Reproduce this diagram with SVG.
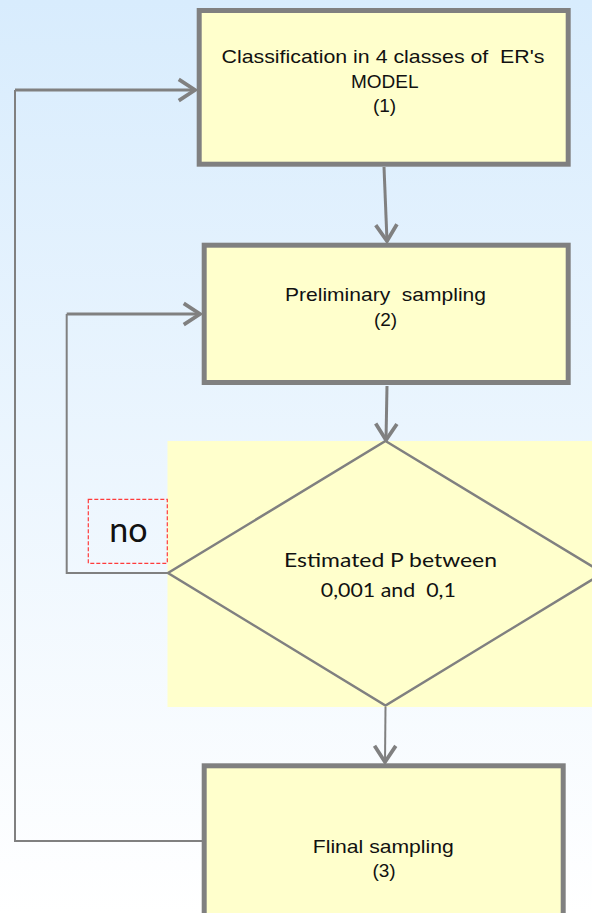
<svg xmlns="http://www.w3.org/2000/svg" width="592" height="913" viewBox="0 0 592 913">
<defs>
<linearGradient id="bg" x1="0" y1="0" x2="0" y2="1">
<stop offset="0" stop-color="#d8ecfd"/>
<stop offset="1" stop-color="#ffffff"/>
</linearGradient>
<marker id="arr" markerUnits="userSpaceOnUse" markerWidth="30" markerHeight="30" refX="0" refY="0" viewBox="-16 -12 20 24" orient="auto" overflow="visible">
<path d="M-13,-8.5 L0,0 L-13,8.5" fill="none" stroke="#808080" stroke-width="3"/>
</marker>
<style>
.box{fill:#ffffcc;stroke:#808080;stroke-width:5}
.dia{fill:#ffffcc;stroke:#808080;stroke-width:2.5}
.t{font-family:"Liberation Sans",Arial,sans-serif;font-size:19px;fill:#111;text-anchor:middle;white-space:pre}
.c{font-family:Lato,"Liberation Sans",sans-serif;font-size:20px;fill:#111;text-anchor:middle;white-space:pre}
.ln{fill:none;stroke:#808080;stroke-width:2}
.lt{fill:none;stroke:#808080;stroke-width:3}
</style>
</defs>
<rect width="592" height="913" fill="url(#bg)"/>
<g id="connectors">
<path class="ln" d="M202,841 L15,841 L15,90"/>
<path class="lt" d="M15,90 L195,90" marker-end="url(#arr)"/>
<path class="ln" d="M168,573 L66.7,573 L66.7,314"/>
<path class="lt" d="M66.7,314 L200,314" marker-end="url(#arr)"/>
<path class="lt" d="M384,167 L387,241" marker-end="url(#arr)"/>
<path class="lt" d="M387,386 L386,440" marker-end="url(#arr)"/>
<path class="ln" d="M385.5,707 L385,762" marker-end="url(#arr)"/>
</g>
<g id="node1">
<rect class="box" x="199.2" y="10.5" width="369" height="153.7"/>
<text class="t" x="383" y="63" textLength="323" lengthAdjust="spacingAndGlyphs">Classification in 4 classes of  ER's</text>
<text class="t" x="384.7" y="87.5">MODEL</text>
<text class="t" x="384.5" y="112">(1)</text>
</g>
<g id="node2">
<rect class="box" x="204.2" y="245.2" width="364" height="137.3"/>
<text class="t" x="385.5" y="301" textLength="201" lengthAdjust="spacingAndGlyphs">Preliminary  sampling</text>
<text class="t" x="385.5" y="325.5">(2)</text>
</g>
<g id="decision">
<rect x="167.5" y="441" width="425" height="266" fill="#ffffcc"/>
<path class="dia" d="M385.5,441 L603,573 L385.5,705.5 L168,573 Z"/>
<text class="c" x="390.5" y="567" textLength="213" lengthAdjust="spacingAndGlyphs">Estimated P between</text>
<text class="c" x="388.3" y="597" textLength="135" lengthAdjust="spacingAndGlyphs">0,001 and  0,1</text>
</g>
<g id="label-no">
<rect x="88.3" y="499.3" width="79" height="64" fill="none" stroke="#ff3b3b" stroke-width="1.2" stroke-dasharray="4,2"/>
<text class="c" x="128.3" y="541.7" style="font-size:34px">no</text>
</g>
<g id="node3">
<rect class="box" x="204.2" y="765.8" width="359" height="160"/>
<text class="t" x="383.3" y="852.7" textLength="141" lengthAdjust="spacingAndGlyphs">Flinal sampling</text>
<text class="t" x="384" y="877">(3)</text>
</g>
</svg>
